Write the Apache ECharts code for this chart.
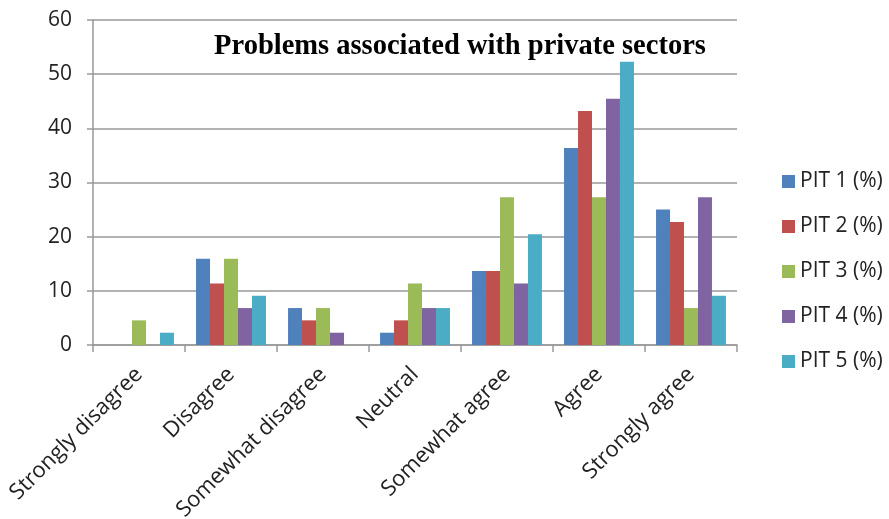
<!DOCTYPE html>
<html>
<head>
<meta charset="utf-8">
<script src="https://cdn.jsdelivr.net/npm/echarts@6/dist/echarts.min.js"></script>
<style>
  html, body { margin: 0; padding: 0; background: #fff; }
  #chart { width: 889px; height: 519px; }
</style>
</head>
<body>
<div id="chart"></div>
<script>
// Categories and series values (percent)
const categories = ['Strongly disagree', 'Disagree', 'Somewhat disagree', 'Neutral', 'Somewhat agree', 'Agree', 'Strongly agree'];
const pit1 = [0, 15.91, 6.82, 2.27, 13.64, 36.36, 25.0];
const pit2 = [0, 11.36, 4.55, 4.55, 13.64, 43.18, 22.73];
const pit3 = [4.55, 15.91, 6.82, 11.36, 27.27, 27.27, 6.82];
const pit4 = [0, 6.82, 2.27, 6.82, 11.36, 45.45, 27.27];
const pit5 = [2.27, 9.09, 0, 6.82, 20.45, 52.27, 9.09];
const seriesNames = ['PIT 1 (%)', 'PIT 2 (%)', 'PIT 3 (%)', 'PIT 4 (%)', 'PIT 5 (%)'];
const colors = ['#4F81BD', '#C0504D', '#9BBB59', '#8064A2', '#4BACC6'];

const allData = [pit1, pit2, pit3, pit4, pit5];

var myChart = echarts.init(document.getElementById('chart'), null, { renderer: 'canvas' });

myChart.setOption({
  animation: false,
  color: colors,
  title: {
    text: 'Problems associated with private sectors',
    left: 455,
    top: 27,
    textAlign: 'center',
    textStyle: {
      fontFamily: 'Liberation Serif',
      fontWeight: 'bold',
      fontSize: 28.5,
      color: '#000'
    }
  },
  legend: {
    orient: 'vertical',
    left: 777,
    top: 166,
    itemWidth: 13,
    itemHeight: 13,
    itemGap: 24,
    icon: 'rect',
    textStyle: { fontFamily: 'Open Sans', fontSize: 21, lineHeight: 20, color: '#222' },
    data: seriesNames
  },
  grid: { left: 93, right: 152, top: 20, bottom: 174, outerBoundsMode: 'none' },
  xAxis: {
    type: 'category',
    data: categories,
    axisLine: { lineStyle: { color: '#999', width: 1.5 } },
    axisTick: { show: true, length: 7, lineStyle: { color: '#999', width: 1.5 } },
    axisLabel: {
      rotate: 45,
      margin: 26,
      fontFamily: 'Open Sans',
      fontSize: 22,
      color: '#222'
    }
  },
  yAxis: {
    type: 'value',
    min: 0,
    max: 60,
    interval: 10,
    axisLine: { show: true, lineStyle: { color: '#999', width: 1.5 } },
    axisTick: { show: true, length: 6, lineStyle: { color: '#999', width: 1.5 } },
    splitLine: { lineStyle: { color: '#999', width: 1.5 } },
    axisLabel: {
      margin: 21,
      fontFamily: 'Open Sans',
      fontSize: 21,
      color: '#222'
    }
  },
  series: allData.map((d, i) => ({
    name: seriesNames[i],
    type: 'bar',
    data: d,
    barGap: '0%',
    barCategoryGap: '24%',
    itemStyle: { color: colors[i] }
  }))
});
</script>
</body>
</html>
